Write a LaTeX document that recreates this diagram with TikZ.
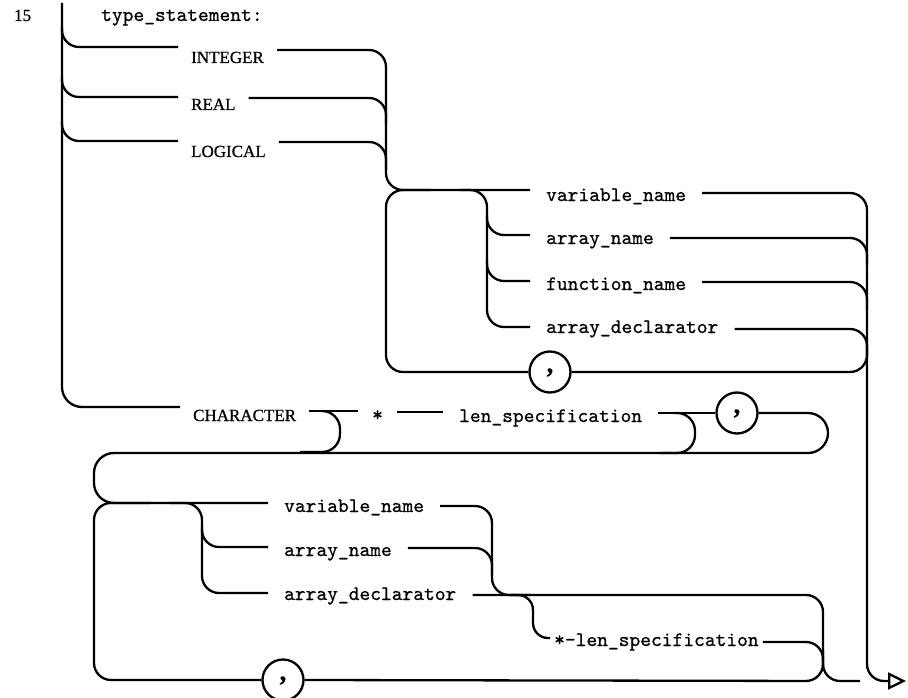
\documentclass[tikz,border=0pt]{standalone}
\usepackage{fontspec}
\usetikzlibrary{arrows.meta}
\newfontfamily\idf{lmmono10-regular.otf}[FakeBold=0.7]
\newfontfamily\kwf{Liberation Serif}[FakeBold=0.8]
\newcommand\idfont{\idf\fontsize{20.5}{24}\selectfont}
\newcommand\kwfont{\kwf\fontsize{17}{20}\selectfont}
\newcommand\cmfont{\kwf\bfseries\fontsize{27}{28}\selectfont}
\tikzset{
  kw/.style={font=\kwfont, inner xsep=12pt, inner ysep=0pt, anchor=base west},
  idl/.style={font=\idfont, inner xsep=15pt, inner ysep=0pt, anchor=base west},
  commac/.style={circle, draw, minimum size=41pt, inner sep=0pt, font=\cmfont},
  rc/.style={rounded corners=17pt},
  rcb/.style={rounded corners=20pt},
  exitarrow/.style={-{Triangle[open,length=18pt,width=17pt]}}
}
\begin{document}
\begin{tikzpicture}[x=1pt,y=-1pt,line width=2.3pt]
\useasboundingbox (0,0) rectangle (908,698);
% labels
\node[kw, inner xsep=0pt] (num) at (13,21) {15};
\node[idl, inner xsep=0pt] (title) at (100,21) {type\_statement:};
\node[kw] (kInt) at (178,63) {INTEGER};
\node[kw] (kReal) at (178,110) {REAL};
\node[kw] (kLog) at (178,157) {LOGICAL};
\node[kw] (kChar) at (180,421) {CHARACTER};
\node[idl] (vn1) at (530,201) {variable\_name};
\node[idl] (an1) at (530,244) {array\_name};
\node[idl] (fn1) at (530,290) {function\_name};
\node[idl] (ad1) at (530,333) {array\_declarator};
\node[commac] (c1) at (550,372) {\raisebox{-5pt}{,}};
\node[idl, inner xsep=13pt] (star) at (358,421) {*};
\node[idl] (ls) at (443,422) {len\_specification};
\node[commac] (c2) at (737,413) {\raisebox{-5pt}{,}};
\node[idl] (vn2) at (268,512) {variable\_name};
\node[idl] (an2) at (268,556) {array\_name};
\node[idl] (ad2) at (268,600) {array\_declarator};
\node[idl, inner xsep=3pt] (sl) at (550,646) {*-len\_specification};
\node[commac] (c3) at (283,680) {\raisebox{-5pt}{,}};
\coordinate (exit) at (906,681);
\coordinate (top) at (62,3);

% main left rail
\draw[rcb] (top) -- (62,407) -- (kChar.west |- 0,407);
\draw[rc] (62,27) -- (62,47) -- (kInt.west |- 0,47);
\draw[rc] (62,77) -- (62,97) -- (kReal.west |- 0,97);
\draw[rc] (62,121) -- (62,141) -- (kLog.west |- 0,141);

% collector of the three types
\draw[rc] (kInt.east |- 0,50) -- (386,50) -- (386,190) -- (vn1.west |- 0,190);
\draw[rc] (kReal.east |- 0,98) -- (386,98) -- (386,125);
\draw[rc] (kLog.east |- 0,142) -- (386,142) -- (386,170);

% first list loop
\draw[rc] (430,190) -- (386,190) -- (386,372) -- (c1.west);
\draw[rc] (c1.east) -- (867,372) -- (867,345);
\draw[rc] (460,190) -- (487,190) -- (487,327) -- (ad1.west |- 0,327);
\draw[rc] (487,215) -- (487,235) -- (an1.west |- 0,235);
\draw[rc] (487,261) -- (487,281) -- (fn1.west |- 0,281);
\draw[rc,exitarrow] (vn1.east |- 0,193) -- (867,193) -- (867,681) -- (exit);
\draw[rc] (an1.east |- 0,238) -- (867,238) -- (867,265);
\draw[rc] (fn1.east |- 0,282) -- (867,282) -- (867,310);
\draw[rc] (ad1.east |- 0,329) -- (867,329) -- (867,355);

% CHARACTER row
\draw (kChar.east |- 0,411) -- (star.west |- 0,411);
\draw[rounded corners=18pt] (322,411) -- (340,411) -- (340,452) -- (300,452);
\draw (star.east |- 0,412) -- (ls.west |- 0,412);
\draw (ls.east |- 0,413) -- (c2.west);
\draw[rounded corners=18pt] (673,413) -- (695,413) -- (695,453) -- (660,453);
\draw[rcb] (c2.east) -- (828,413) -- (828,453) -- (94,453) -- (94,503) -- (vn2.west |- 0,503);

% second list loop
\draw[rc] (150,503) -- (94,503) -- (94,680) -- (c3.west);
\draw[rc] (c3.east) -- (823,681) -- (823,650);
\draw[rc] (170,503) -- (202,503) -- (202,593) -- (ad2.west |- 0,593);
\draw[rc] (202,527) -- (202,547) -- (an2.west |- 0,547);
\draw[rc] (vn2.east |- 0,506) -- (492,506) -- (492,595) -- (530,595);
\draw[rc] (an2.east |- 0,548) -- (492,548) -- (492,575);
\draw[rc] (ad2.east |- 0,595) -- (823,595) -- (823,681) -- (860,681);
\draw[rounded corners=15pt] (510,595) -- (533,595) -- (533,638) -- (sl.west |- 0,638);
\draw[rc] (sl.east |- 0,642) -- (823,642) -- (823,670);
\end{tikzpicture}
\end{document}
